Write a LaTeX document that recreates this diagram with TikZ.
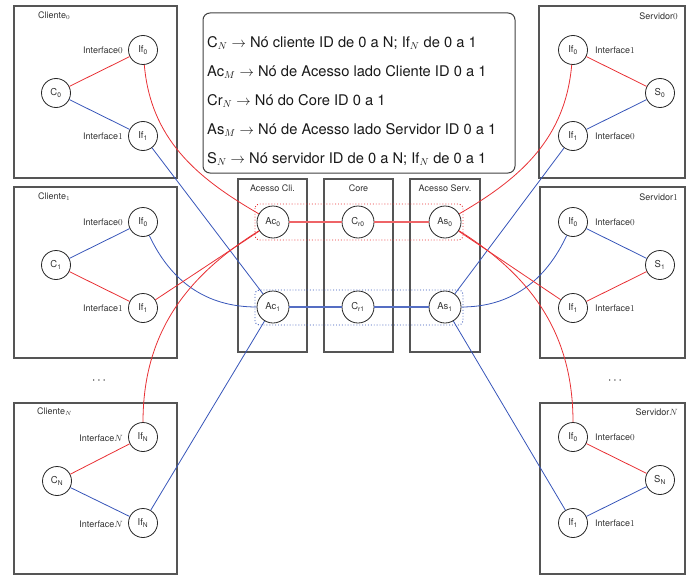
\documentclass[tikz,border=0pt]{standalone}
\usepackage[no-math]{fontspec}
\setmainfont{TeX Gyre Heros}
\definecolor{myred}{RGB}{232,48,52}
\definecolor{myblue}{RGB}{55,85,185}
\definecolor{boxgray}{RGB}{85,85,85}
\begin{document}
\begin{tikzpicture}[x=1pt,y=-1pt,
  nd/.style={circle,draw=black!85,line width=0.8pt,fill=white,minimum size=29pt,inner sep=0pt,font=\fontsize{9.5}{10}\selectfont,text=black!80},
  bignd/.style={nd,minimum size=32pt},
  frame/.style={draw=boxgray,line width=1.2pt},
  lbl/.style={font=\fontsize{9}{10}\selectfont,text=black!80,inner sep=0pt},
  leg/.style={font=\fontsize{14.7}{16}\selectfont,text=black!90,anchor=west,inner sep=0pt},
  rl/.style={draw=myred,line width=0.8pt},
  bl/.style={draw=myblue,line width=0.8pt},
  corer/.style={draw=myred!75,line width=1.6pt},
  coreb/.style={draw=myblue!85,line width=1.1pt}]
\useasboundingbox (0,0) rectangle (692,575);

% client boxes
\draw[frame] (14,6) rectangle (177,178);
\draw[frame] (14,187) rectangle (177,358);
\draw[frame] (14,403) rectangle (177,574);
% server boxes
\draw[frame] (539,6) rectangle (685,178);
\draw[frame] (540,187) rectangle (685,358);
\draw[frame] (540,403) rectangle (685,574);
% middle columns
\draw[frame] (238,179) rectangle (307,352);
\draw[frame] (324,179) rectangle (393,352);
\draw[frame] (410,179) rectangle (480,352);
% legend
\draw[draw=black!75,line width=1pt,rounded corners=7pt] (203,13) rectangle (515,173);

% labels
\node[lbl,anchor=west] (tc0) at (38,16) {Cliente$_0$};
\node[lbl,anchor=west] (tc1) at (38,197) {Cliente$_1$};
\node[lbl,anchor=west] (tcN) at (37,412) {Cliente$_N$};
\node[lbl,anchor=east] (ts0) at (678,16) {Servidor$0$};
\node[lbl,anchor=east] (ts1) at (678,197) {Servidor$1$};
\node[lbl,anchor=east] (tsN) at (678,412) {Servidor$N$};
\node[lbl] (tac) at (272.5,188) {Acesso Cli.};
\node[lbl] (tcr) at (358.5,188) {Core};
\node[lbl] (tas) at (445,188) {Acesso Serv.};

\node[lbl,anchor=east] (i01) at (123,50) {Interface$0$};
\node[lbl,anchor=east] (i02) at (123,136) {Interface$1$};
\node[lbl,anchor=east] (i11) at (123,222) {Interface$0$};
\node[lbl,anchor=east] (i12) at (123,308) {Interface$1$};
\node[lbl,anchor=east] (iN1) at (123,438) {Interface$N$};
\node[lbl,anchor=east] (iN2) at (123,524) {Interface$N$};
\node[lbl,anchor=west] (j01) at (595,50) {Interface$1$};
\node[lbl,anchor=west] (j02) at (595,136) {Interface$0$};
\node[lbl,anchor=west] (j11) at (595,222) {Interface$0$};
\node[lbl,anchor=west] (j12) at (595,308) {Interface$1$};
\node[lbl,anchor=west] (jN1) at (595,437) {Interface$0$};
\node[lbl,anchor=west] (jN2) at (595,523) {Interface$1$};

\node[font=\fontsize{12}{12}\selectfont] (dl) at (99,381) {$\cdots$};
\node[font=\fontsize{12}{12}\selectfont] (dr) at (615,381) {$\cdots$};

% legend text
\node[leg] (l1) at (207,43) {C$_N$ $\rightarrow$ Nó cliente ID de 0 a N; If$_N$ de 0 a 1};
\node[leg] (l2) at (207,72) {Ac$_M$ $\rightarrow$ Nó de Acesso lado Cliente ID 0 a 1};
\node[leg] (l3) at (207,101) {Cr$_N$ $\rightarrow$ Nó do Core ID 0 a 1};
\node[leg] (l4) at (207,130) {As$_M$ $\rightarrow$ Nó de Acesso lado Servidor ID 0 a 1};
\node[leg] (l5) at (207,159) {S$_N$ $\rightarrow$ Nó servidor ID de 0 a N; If$_N$ de 0 a 1};

% client nodes
\node[nd] (c0) at (56,93) {C\textsubscript{0}};
\node[nd] (c0i0) at (143,50) {If\textsubscript{0}};
\node[nd] (c0i1) at (143,136) {If\textsubscript{1}};
\node[nd] (c1) at (56,265) {C\textsubscript{1}};
\node[nd] (c1i0) at (143,222) {If\textsubscript{0}};
\node[nd] (c1i1) at (143,308) {If\textsubscript{1}};
\node[nd] (cN) at (57,481) {C\textsubscript{N}};
\node[nd] (cNi0) at (143,437) {If\textsubscript{N}};
\node[nd] (cNi1) at (143,523) {If\textsubscript{N}};
% server nodes
\node[nd] (s0) at (660,93) {S\textsubscript{0}};
\node[nd] (s0i0) at (573,50) {If\textsubscript{0}};
\node[nd] (s0i1) at (573,136) {If\textsubscript{1}};
\node[nd] (s1) at (660,265) {S\textsubscript{1}};
\node[nd] (s1i0) at (573,222) {If\textsubscript{0}};
\node[nd] (s1i1) at (573,308) {If\textsubscript{1}};
\node[nd] (sN) at (660,480) {S\textsubscript{N}};
\node[nd] (sNi0) at (573,437) {If\textsubscript{0}};
\node[nd] (sNi1) at (573,523) {If\textsubscript{1}};
% middle nodes
\node[bignd] (ac0) at (273,222) {Ac\textsubscript{0}};
\node[bignd] (cr0) at (358,222) {C\textsubscript{r0}};
\node[bignd] (as0) at (445,222) {As\textsubscript{0}};
\node[bignd] (ac1) at (273,307) {Ac\textsubscript{1}};
\node[bignd] (cr1) at (358,307) {C\textsubscript{r1}};
\node[bignd] (as1) at (445,307) {As\textsubscript{1}};

% dotted groups
\draw[myred,dotted,line width=0.9pt,rounded corners=4pt] (255,204) rectangle (463,240);
\draw[myblue,dotted,line width=0.9pt,rounded corners=4pt] (255,290) rectangle (463,325);

% inner links
\draw[rl] (c0) -- (c0i0);
\draw[bl] (c0) -- (c0i1);
\draw[bl] (c1) -- (c1i0);
\draw[rl] (c1) -- (c1i1);
\draw[rl] (cN) -- (cNi0);
\draw[bl] (cN) -- (cNi1);
\draw[rl] (s0) -- (s0i0);
\draw[bl] (s0) -- (s0i1);
\draw[bl] (s1) -- (s1i0);
\draw[rl] (s1) -- (s1i1);
\draw[rl] (sN) -- (sNi0);
\draw[bl] (sN) -- (sNi1);

% client to access
\draw[rl] (c0i0) to[out=-85,in=150] (ac0);
\draw[bl] (c0i1) -- (ac1);
\draw[bl] (c1i0) to[out=-65,in=180] (ac1);
\draw[rl] (c1i1) -- (ac0);
\draw[rl] (cNi0) to[out=90,in=-148] (ac0);
\draw[bl] (cNi1) -- (ac1);
% server to access
\draw[rl] (s0i0) to[out=-95,in=30] (as0);
\draw[bl] (s0i1) -- (as1);
\draw[bl] (s1i0) to[out=-115,in=0] (as1);
\draw[rl] (s1i1) -- (as0);
\draw[rl] (sNi0) to[out=90,in=-32] (as0);
\draw[bl] (sNi1) -- (as1);

% core
\draw[corer] (ac0) -- (cr0);
\draw[corer] (cr0) -- (as0);
\draw[coreb] (ac1) -- (cr1);
\draw[coreb] (cr1) -- (as1);
\end{tikzpicture}
\end{document}
